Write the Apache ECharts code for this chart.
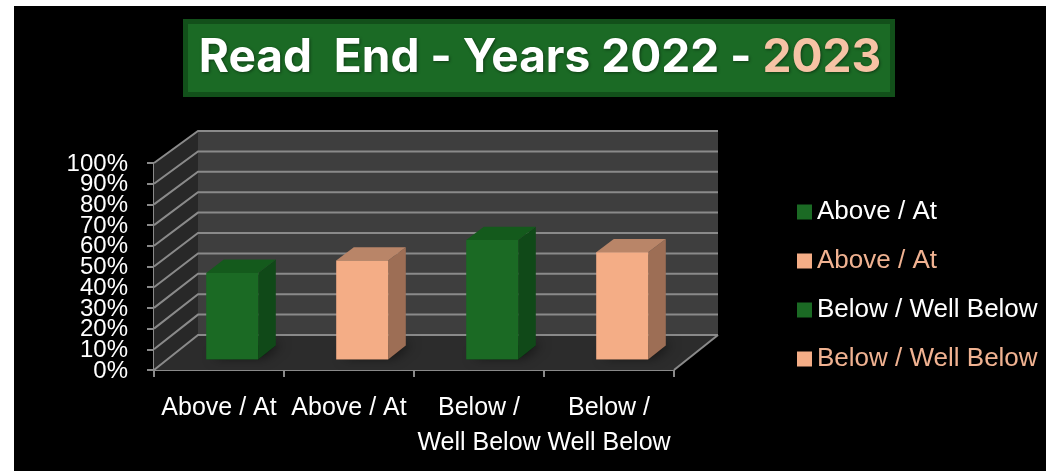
<!DOCTYPE html>
<html>
<head>
<meta charset="utf-8">
<script src="https://cdn.jsdelivr.net/npm/echarts@6/dist/echarts.min.js"></script>
<style>
html,body{margin:0;padding:0;background:#fff;}
#chart{width:1046px;height:471px;}
</style>
</head>
<body>
<div id="chart"></div>
<script>
// ---------- data ----------
const categories = ['Above / At', 'Above / At', 'Below /\nWell Below', 'Below /\nWell Below'];
const seriesNames = ['Above / At 2022', 'Above / At 2023', 'Below / Well Below 2022', 'Below / Well Below 2023'];
const legendLabels = ['Above / At', 'Above / At', 'Below / Well Below', 'Below / Well Below'];
const seriesCategory = [0, 1, 2, 3];
const seriesValues = [42, 48, 58, 52];
const yTicks = [0, 10, 20, 30, 40, 50, 60, 70, 80, 90, 100];
const yTickLabels = ['0%', '10%', '20%', '30%', '40%', '50%', '60%', '70%', '80%', '90%', '100%'];
const titleMain = 'Read  End - Years 2022 - ';
const titleYear = '2023';

// ---------- styles ----------
const GREEN = {front: '#1b6a24', top: '#145a1c', side: '#104918', legend: '#1b6a24', text: '#ffffff'};
const PEACH = {front: '#f4ad86', top: '#b98568', side: '#9d6e55', legend: '#f4ad86', text: '#f0b291'};
const PALETTE = [GREEN, PEACH, GREEN, PEACH];
const DEPTH = {dx: 44, dyBottom: -35, dyTop: -32};
const BAR = {widthRatio: 0.4, t0: 0.30, t1: 0.70};
const Y_LABEL = {margin: 26, fontSize: 24, font: 'Liberation Sans'};

function proj(cs, x, y, t) {
  const frac = (cs.y + cs.height - y) / cs.height;
  const dy = DEPTH.dyBottom + (DEPTH.dyTop - DEPTH.dyBottom) * frac;
  return [x + t * DEPTH.dx, y + t * dy];
}

function renderWalls(params, api) {
  const cs = params.coordSys;
  const xl = cs.x, xr = cs.x + cs.width, yt = cs.y, yb = cs.y + cs.height;
  return {
    type: 'group',
    children: [
      {type: 'polygon', shape: {points: [proj(cs, xl, yt, 1), proj(cs, xr, yt, 1), proj(cs, xr, yb, 1), proj(cs, xl, yb, 1)]}, style: {fill: '#3e3e3e'}},
      {type: 'polygon', shape: {points: [proj(cs, xl, yt, 0), proj(cs, xl, yt, 1), proj(cs, xl, yb, 1), proj(cs, xl, yb, 0)]}, style: {fill: '#282828'}},
      {type: 'polygon', shape: {points: [proj(cs, xl, yb, 0), proj(cs, xr, yb, 0), proj(cs, xr, yb, 1), proj(cs, xl, yb, 1)]}, style: {fill: '#2c2c2c'}},
      {type: 'polyline', shape: {points: [proj(cs, xr, yb, 0), proj(cs, xr, yb, 1)]}, style: {stroke: '#8a8a8a', lineWidth: 2, fill: null}}
    ]
  };
}

function renderGrid(params, api) {
  const cs = params.coordSys;
  const xl = cs.x, xr = cs.x + cs.width;
  const y = api.coord([0, api.value(1)])[1];
  return {
    type: 'group',
    children: [
      {type: 'polyline',
        shape: {points: [proj(cs, xl, y, 0), proj(cs, xl, y, 1), proj(cs, xr, y, 1)]},
        style: {stroke: '#8a8a8a', lineWidth: 2, fill: null}},
      {type: 'text',
        style: {x: xl - Y_LABEL.margin, y: y + 1, text: yTickLabels[params.dataIndex],
          align: 'right', verticalAlign: 'middle', fill: '#fff',
          fontSize: Y_LABEL.fontSize, fontFamily: Y_LABEL.font}}
    ]
  };
}

function makeBarRenderer(pal) {
  return function (params, api) {
    const cs = params.coordSys;
    const c = api.value(0), v = api.value(1);
    const base = api.coord([c, 0]);
    const top = api.coord([c, v]);
    const w = api.size([1, 0])[0] * BAR.widthRatio;
    const xl = base[0] - w / 2, xr = base[0] + w / 2;
    const y0 = base[1], y1 = top[1];
    const T0 = BAR.t0, T1 = BAR.t1;
    const fbl = proj(cs, xl, y0, T0), fbr = proj(cs, xr, y0, T0);
    const ftl = proj(cs, xl, y1, T0), ftr = proj(cs, xr, y1, T0);
    const bbl = proj(cs, xl, y0, T1), bbr = proj(cs, xr, y0, T1);
    const btl = proj(cs, xl, y1, T1), btr = proj(cs, xr, y1, T1);
    return {
      type: 'group',
      children: [
        {type: 'polygon', shape: {points: [fbl, fbr, bbr, bbl]},
          style: {fill: 'rgba(0,0,0,0.6)', shadowBlur: 12, shadowColor: 'rgba(0,0,0,0.95)', shadowOffsetX: 6, shadowOffsetY: -2}},
        {type: 'polygon', shape: {points: [ftr, btr, bbr, fbr]}, style: {fill: pal.side}},
        {type: 'polygon', shape: {points: [ftl, ftr, btr, btl]}, style: {fill: pal.top}},
        {type: 'polygon', shape: {points: [ftl, ftr, fbr, fbl]}, style: {fill: pal.front}}
      ]
    };
  };
}

const chart = echarts.init(document.getElementById('chart'), null, {renderer: 'canvas'});

const series = [
  {type: 'custom', name: '__walls', data: [[0, 0]], renderItem: renderWalls, clip: false, z: 1, silent: true},
  {type: 'custom', name: '__grid', data: yTicks.map(v => [0, v]), renderItem: renderGrid, clip: false, z: 2, silent: true}
];
seriesNames.forEach((n, i) => {
  series.push({
    type: 'custom', name: n, clip: false, z: 3,
    itemStyle: {color: PALETTE[i].legend},
    data: [[seriesCategory[i], seriesValues[i]]],
    renderItem: makeBarRenderer(PALETTE[i])
  });
});

chart.setOption({
  animation: false,
  backgroundColor: '#000',
  grid: {left: 154, top: 163, width: 520, height: 207, containLabel: false},
  xAxis: {
    type: 'category', data: categories,
    axisLine: {lineStyle: {color: '#8a8a8a', width: 2}},
    axisTick: {show: true, length: 7, lineStyle: {color: '#8a8a8a', width: 2}},
    axisLabel: {color: '#fff', fontFamily: 'Liberation Sans', fontSize: 25, lineHeight: 35, margin: 21, interval: 0},
    splitLine: {show: false}
  },
  yAxis: {
    type: 'value', min: 0, max: 100, interval: 10,
    axisLine: {show: true, lineStyle: {color: '#8a8a8a', width: 2}},
    axisTick: {show: true, length: 7, lineStyle: {color: '#8a8a8a', width: 2}},
    axisLabel: {show: false},
    splitLine: {show: false}
  },
  legend: {
    orient: 'vertical', left: 797, top: 199, padding: 0,
    icon: 'rect', itemWidth: 15, itemHeight: 15, itemGap: 23,
    textStyle: {fontFamily: 'Liberation Sans', fontSize: 26, lineHeight: 25, color: '#fff'},
    data: seriesNames.map((n, i) => ({name: n, textStyle: {color: PALETTE[i].text}})),
    formatter: name => legendLabels[seriesNames.indexOf(name)],
    selectedMode: false
  },
  graphic: [
    {type: 'rect', left: 0, top: 0, shape: {width: 14, height: 471}, style: {fill: '#fff'}, z: 100},
    {type: 'rect', left: 0, top: 0, shape: {width: 1046, height: 6}, style: {fill: '#fff'}, z: 100},
    {type: 'rect', shape: {x: 185.5, y: 21.5, width: 707, height: 73}, style: {fill: '#1b6a25', stroke: '#12501a', lineWidth: 5}, z: 50},
    {type: 'text', x: 540, y: 58, z: 51,
      style: {
        text: '{w|' + titleMain + '}{p|' + titleYear + '}',
        align: 'center', verticalAlign: 'middle',
        rich: {
          w: {fill: '#fff', fontFamily: 'Inter', fontWeight: 'bold', fontSize: 46, textShadowColor: 'rgba(0,0,0,0.45)', textShadowBlur: 3, textShadowOffsetX: 1, textShadowOffsetY: 1},
          p: {fill: '#f6c3a5', fontFamily: 'Inter', fontWeight: 'bold', fontSize: 46, textShadowColor: 'rgba(0,0,0,0.45)', textShadowBlur: 3, textShadowOffsetX: 1, textShadowOffsetY: 1}
        }
      }
    }
  ],
  series: series
});
</script>
</body>
</html>
